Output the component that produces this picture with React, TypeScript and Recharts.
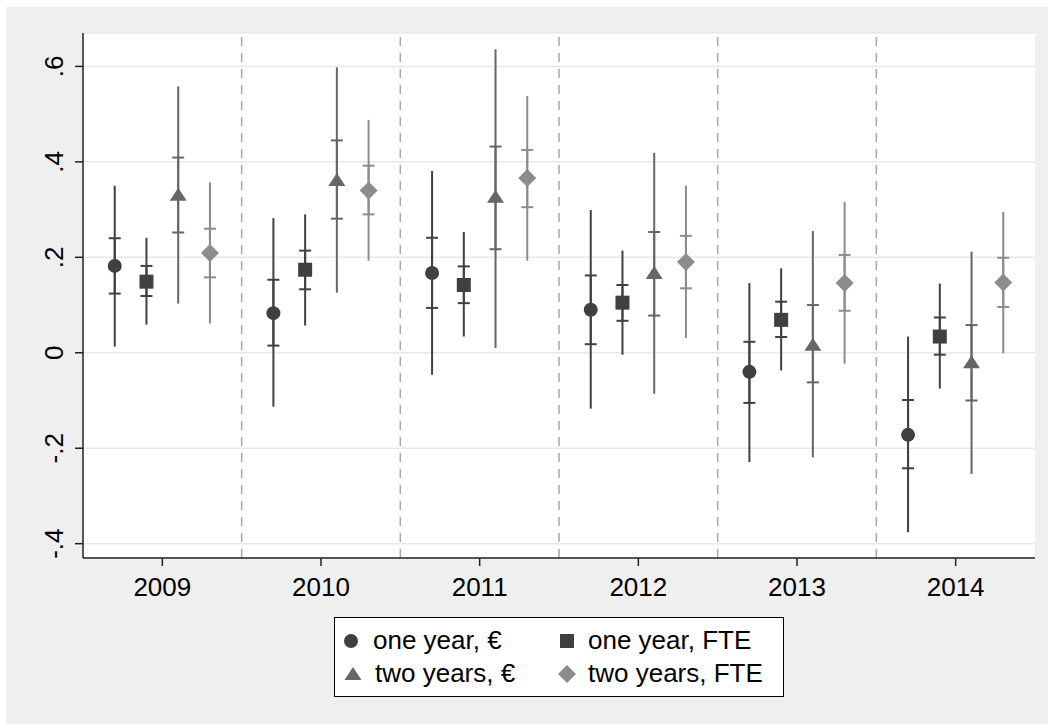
import { ComposedChart, Scatter, ErrorBar, XAxis, YAxis, CartesianGrid, ReferenceLine } from 'recharts';

const years = [2009, 2010, 2011, 2012, 2013, 2014];
const yTicks = [-0.4, -0.2, 0, 0.2, 0.4, 0.6];

// per year: [estimate, lo90, hi90, lo95, hi95]
const oneYearEuro = [
  [0.182, 0.124, 0.240, 0.013, 0.350],
  [0.083, 0.015, 0.153, -0.113, 0.282],
  [0.167, 0.094, 0.241, -0.046, 0.381],
  [0.090, 0.018, 0.162, -0.117, 0.299],
  [-0.040, -0.105, 0.023, -0.229, 0.146],
  [-0.172, -0.242, -0.099, -0.376, 0.034],
];
const oneYearFte = [
  [0.149, 0.119, 0.182, 0.059, 0.241],
  [0.174, 0.133, 0.214, 0.057, 0.290],
  [0.142, 0.104, 0.181, 0.034, 0.253],
  [0.105, 0.067, 0.142, -0.004, 0.214],
  [0.069, 0.033, 0.107, -0.037, 0.177],
  [0.034, -0.004, 0.074, -0.075, 0.145],
];
const twoYearsEuro = [
  [0.331, 0.252, 0.409, 0.103, 0.558],
  [0.362, 0.281, 0.445, 0.126, 0.598],
  [0.327, 0.217, 0.432, 0.010, 0.636],
  [0.167, 0.078, 0.253, -0.086, 0.419],
  [0.017, -0.062, 0.100, -0.219, 0.255],
  [-0.020, -0.100, 0.058, -0.254, 0.212],
];
const twoYearsFte = [
  [0.209, 0.158, 0.260, 0.061, 0.357],
  [0.340, 0.290, 0.392, 0.193, 0.488],
  [0.366, 0.305, 0.425, 0.193, 0.538],
  [0.190, 0.135, 0.245, 0.031, 0.350],
  [0.146, 0.088, 0.205, -0.023, 0.316],
  [0.147, 0.096, 0.199, -0.001, 0.295],
];

const FONT = '"Liberation Sans", Arial, sans-serif';
const DARK = '#404040';
const MID = '#666666';
const LIGHT = '#8c8c8c';

const toRows = (rows: number[][], shift: number) =>
  rows.map((r, i) => ({
    x: years[i] + shift,
    y: r[0],
    e90: [r[0] - r[1], r[2] - r[0]],
    e95: [r[0] - r[3], r[4] - r[0]],
  }));

const circle = (color: string) => (p: any) => <circle cx={p.cx} cy={p.cy} r={7} fill={color} />;
const square = (color: string) => (p: any) => <rect x={p.cx - 7} y={p.cy - 7} width={14} height={14} fill={color} />;
const triangle = (color: string) => (p: any) => (
  <polygon points={`${p.cx},${p.cy - 7} ${p.cx + 8.5},${p.cy + 6} ${p.cx - 8.5},${p.cy + 6}`} fill={color} />
);
const diamond = (color: string) => (p: any) => (
  <polygon points={`${p.cx},${p.cy - 9} ${p.cx + 9},${p.cy} ${p.cx},${p.cy + 9} ${p.cx - 9},${p.cy}`} fill={color} />
);

const series = [
  { name: 'one year, €', rows: oneYearEuro, shift: -0.3, color: DARK, shape: circle },
  { name: 'one year, FTE', rows: oneYearFte, shift: -0.1, color: DARK, shape: square },
  { name: 'two years, €', rows: twoYearsEuro, shift: 0.1, color: MID, shape: triangle },
  { name: 'two years, FTE', rows: twoYearsFte, shift: 0.3, color: LIGHT, shape: diamond },
];

const fmt = (v: number) => (v === 0 ? '0' : v.toFixed(1).replace('0.', '.'));

const YTick = (props: any) => {
  const { x, y, payload } = props;
  return (
    <text
      x={x}
      y={y}
      dy={-10}
      transform={`rotate(-90 ${x} ${y})`}
      textAnchor="middle"
      fontSize={26}
      fontFamily={FONT}
      fill="#000"
    >
      {fmt(payload.value)}
    </text>
  );
};

function LegendMark({ shape, color }: { shape: any; color: string }) {
  return (
    <svg width={24} height={24} style={{ position: 'absolute', left: -12, top: -12 }}>
      {shape(color)({ cx: 12, cy: 12 })}
    </svg>
  );
}

export default function App() {
  const separators = years.slice(1).map((y) => y - 0.5);
  const legendPos = [
    { left: 16, top: 23 },
    { left: 232, top: 23 },
    { left: 18, top: 56 },
    { left: 232, top: 56 },
  ];
  return (
    <div style={{ position: 'absolute', left: 0, top: 0, width: 1048, height: 724, background: '#fff', fontFamily: FONT }}>
      <div style={{ position: 'absolute', left: 6, top: 7, right: 0, bottom: 0, background: '#efefef' }} />
      <div style={{ position: 'absolute', left: 0, top: 0 }}>
        <ComposedChart width={1048} height={724} margin={{ top: 33, right: 13, left: 43, bottom: 136 }}>
          <CartesianGrid vertical={false} stroke="#e8e8e8" strokeWidth={1.5} fill="#ffffff" />
          <XAxis
            type="number"
            dataKey="x"
            domain={[2008.5, 2014.5]}
            ticks={years}
            allowDataOverflow
            height={30}
            tickSize={8}
            tickMargin={12}
            stroke="#222"
            strokeWidth={1.5}
            tick={{ fontSize: 26, fill: '#000', fontFamily: FONT }}
          />
          <YAxis
            type="number"
            dataKey="y"
            domain={[-0.43, 0.67]}
            ticks={yTicks}
            allowDataOverflow
            width={40}
            tickSize={8}
            tickMargin={2}
            stroke="#222"
            strokeWidth={1.5}
            tick={<YTick />}
          />
          {separators.map((v) => (
            <ReferenceLine key={v} x={v} stroke="#a8a8a8" strokeWidth={1.5} strokeDasharray="9 7" />
          ))}
          {series.map((s) => (
            <Scatter
              key={s.name}
              name={s.name}
              data={toRows(s.rows, s.shift)}
              dataKey="y"
              fill={s.color}
              shape={s.shape(s.color)}
              isAnimationActive={false}
            >
              <ErrorBar dataKey="e95" direction="y" width={0} stroke={s.color} strokeWidth={2} isAnimationActive={false} />
              <ErrorBar dataKey="e90" direction="y" width={6} stroke={s.color} strokeWidth={2} isAnimationActive={false} />
            </Scatter>
          ))}
        </ComposedChart>
      </div>
      <div
        style={{
          position: 'absolute',
          left: 334,
          top: 617,
          width: 450,
          height: 80,
          boxSizing: 'border-box',
          border: '1px solid #000',
          background: '#fff',
        }}
      >
        {series.map((s, i) => (
          <div key={s.name} style={{ position: 'absolute', left: legendPos[i].left, top: legendPos[i].top }}>
            <LegendMark shape={s.shape} color={s.color} />
            <span
              style={{
                position: 'absolute',
                left: i % 2 === 0 ? 22 : 21,
                top: -16,
                fontSize: 26,
                lineHeight: '30px',
                whiteSpace: 'nowrap',
                color: '#000',
              }}
            >
              {s.name}
            </span>
          </div>
        ))}
      </div>
    </div>
  );
}
